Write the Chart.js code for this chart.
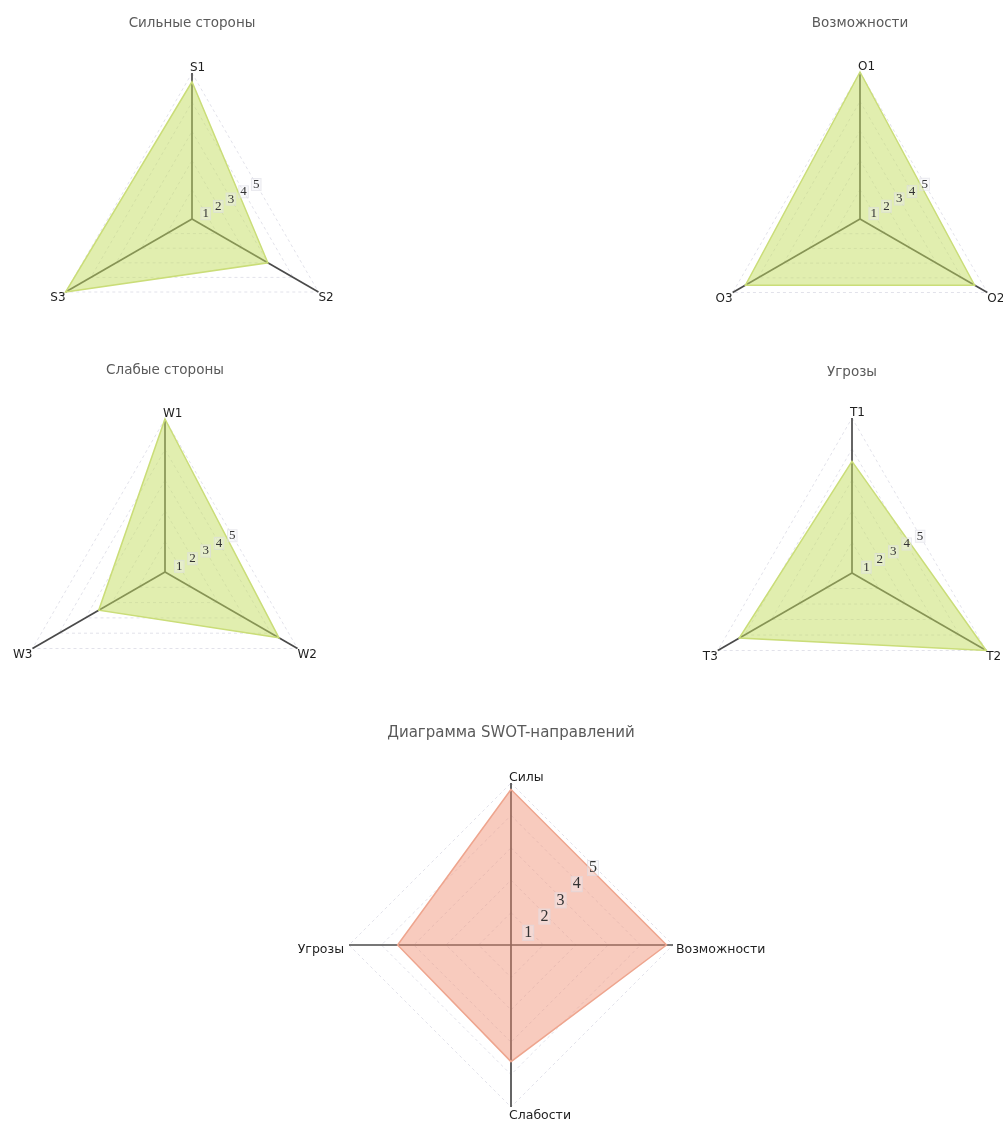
<!DOCTYPE html>
<html>
<head>
<meta charset="utf-8">
<script src="https://cdn.jsdelivr.net/npm/chart.js@4.4.1/dist/chart.umd.min.js"></script>
<style>
  html, body { margin: 0; padding: 0; background: #fff; overflow: hidden; width: 1003px; height: 1122px; }
  canvas { position: absolute; }
</style>
</head>
<body>
<script>
// ---- data ----
const strengthLabels = ['S1', 'S2', 'S3'];
const strengthValues = [4.7, 3.0, 5];

const opportunityLabels = ['O1', 'O2', 'O3'];
const opportunityValues = [5, 4.5, 4.5];

const weaknessLabels = ['W1', 'W2', 'W3'];
const weaknessValues = [5, 4.3, 2.5];

const threatLabels = ['T1', 'T2', 'T3'];
const threatValues = [3.6, 5, 4.2];

const swotLabels = ['Силы', 'Возможности', 'Слабости', 'Угрозы'];
const swotValues = [4.8, 4.8, 3.6, 3.5];

// rating scale 1..5
const scaleTicks = [1, 2, 3, 4, 5];

// ---- appearance ----
const GREEN = { fill: 'rgba(196, 221, 96, 0.5)', line: '#cadd78' };
const SALMON = { fill: 'rgba(239, 140, 110, 0.45)', line: '#eea58e' };

// Labels on the axes and along the first sector of the grid
const axisTextPlugin = {
  id: 'axisText',
  afterDraw(chart, args, opts) {
    const scale = chart.scales.r;
    const ctx = chart.ctx;
    ctx.save();

    // rating values, centred on the midpoints of the grid edge between axes 0 and 1
    ctx.font = opts.tickFont;
    ctx.textAlign = 'center';
    ctx.textBaseline = 'middle';
    scale.ticks.forEach(t => {
      if (!scaleTicks.includes(t.value)) return;
      const a = scale.getPointPositionForValue(0, t.value);
      const b = scale.getPointPositionForValue(1, t.value);
      const x = (a.x + b.x) / 2 + 1;
      const y = (a.y + b.y) / 2 + opts.tickShift;
      const w = ctx.measureText(String(t.value)).width;
      const h = opts.tickSize;
      ctx.fillStyle = 'rgba(240, 240, 246, 0.4)';
      ctx.fillRect(x - w / 2 - 2, y - h / 2, w + 4, h);
      ctx.strokeStyle = 'rgba(205, 205, 218, 0.35)';
      ctx.lineWidth = 1;
      ctx.strokeRect(x - w / 2 - 2 + 0.5, y - h / 2 + 0.5, w + 3, h - 1);
      ctx.fillStyle = '#333';
      ctx.fillText(String(t.value), x, y);
    });

    // axis names at the outer ends of the axes
    ctx.font = opts.pointFont;
    ctx.fillStyle = '#1e1e1e';
    chart.data.labels.forEach((label, i) => {
      const p = scale.getPointPosition(i, scale.drawingArea);
      const ang = scale.getIndexAngle(i) - Math.PI / 2;
      const dx = Math.cos(ang), dy = Math.sin(ang);
      let x = p.x, y = p.y;
      if (Math.abs(dx) < 0.1) {
        ctx.textAlign = 'left';
        x -= 2;
        if (dy < 0) { ctx.textBaseline = 'bottom'; y += 1; }
        else { ctx.textBaseline = 'top'; y += 2; }
      } else if (Math.abs(dy) < 0.1) {
        ctx.textAlign = dx > 0 ? 'left' : 'right';
        x += dx > 0 ? 3 : -5;
        ctx.textBaseline = 'middle';
        y += 5;
      } else {
        ctx.textAlign = dx > 0 ? 'left' : 'right';
        ctx.textBaseline = 'top';
      }
      ctx.fillText(label, x, y);
    });
    ctx.restore();
  }
};

function makeRadar(geo, title, labels, values, color, big) {
  const M = big ? 110 : 60;   // room for axis names at the sides
  const B = 30;               // room below the plot
  const T0 = geo.titleY - 15;
  const titleSize = big ? 15 : 13.5;
  const lh = titleSize * 1.2;
  const headH = geo.cy - geo.r - T0;
  const padTop = geo.titleY - T0 - lh / 2;
  const padBottom = headH - padTop - lh;

  const canvas = document.createElement('canvas');
  canvas.width = 2 * geo.r + 2 * M;
  canvas.height = headH + 2 * geo.r + B;
  canvas.style.left = (geo.cx - geo.r - M) + 'px';
  canvas.style.top = T0 + 'px';
  document.body.appendChild(canvas);

  return new Chart(canvas, {
    type: 'radar',
    data: {
      labels: labels,
      datasets: [{
        data: values,
        backgroundColor: color.fill,
        borderColor: color.line,
        borderWidth: 1.5,
        pointRadius: 0,
        pointHoverRadius: 0,
        fill: true
      }]
    },
    options: {
      responsive: false,
      animation: false,
      layout: { padding: { left: M, right: M, top: 0, bottom: B } },
      scales: {
        r: {
          min: 0,
          max: 5,
          ticks: { display: false, stepSize: 1 },
          pointLabels: { display: false },
          grid: { color: '#e2e2ea', lineWidth: 1 },
          border: { dash: [3, 3] },
          angleLines: { color: '#4a4a4a', lineWidth: 1.7 }
        }
      },
      plugins: {
        legend: { display: false },
        tooltip: { enabled: false },
        title: {
          display: true,
          text: title,
          color: '#5a5a5a',
          font: { family: 'DejaVu Sans', size: titleSize, weight: 'normal', lineHeight: 1.2 },
          padding: { top: padTop, bottom: padBottom }
        },
        axisText: {
          tickFont: (big ? 16 : 13) + 'px "Liberation Serif", "DejaVu Serif", serif',
          tickSize: big ? 16 : 13,
          tickShift: big ? 4 : 2,
          pointFont: (big ? 12.5 : 12) + 'px "DejaVu Sans", sans-serif'
        }
      }
    },
    plugins: [axisTextPlugin]
  });
}

makeRadar({ cx: 192, cy: 219, r: 146, titleY: 23 }, 'Сильные стороны', strengthLabels, strengthValues, GREEN, false);
makeRadar({ cx: 860, cy: 219, r: 147, titleY: 23 }, 'Возможности', opportunityLabels, opportunityValues, GREEN, false);
makeRadar({ cx: 165, cy: 572, r: 153, titleY: 370 }, 'Слабые стороны', weaknessLabels, weaknessValues, GREEN, false);
makeRadar({ cx: 852, cy: 573, r: 155, titleY: 372 }, 'Угрозы', threatLabels, threatValues, GREEN, false);
makeRadar({ cx: 511, cy: 945, r: 162, titleY: 733 }, 'Диаграмма SWOT-направлений', swotLabels, swotValues, SALMON, true);
</script>
</body>
</html>
